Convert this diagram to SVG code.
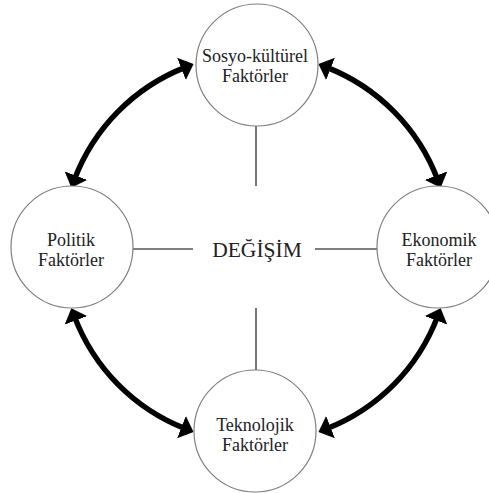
<svg xmlns="http://www.w3.org/2000/svg" width="489" height="493" viewBox="0 0 489 493">
<style>
  .node circle { fill: #fff; stroke: #808080; stroke-width: 1.2; }
  .node text { font-family: "Liberation Serif", "Times New Roman", serif; font-size: 18px; fill: #222; text-anchor: middle; }
  .center text { font-family: "Liberation Serif", "Times New Roman", serif; font-size: 21.5px; fill: #222; text-anchor: middle; }
  .link { stroke: #555; stroke-width: 1.6; fill: none; }
  .arc { stroke: #000; stroke-width: 5.5; fill: none; marker-start: url(#head); marker-end: url(#head); }
</style>
<defs>
  <marker id="head" viewBox="0 0 13 24" refX="4" refY="12" markerWidth="13" markerHeight="24" markerUnits="userSpaceOnUse" orient="auto-start-reverse">
    <path d="M0,0 L13,12 L0,24 Z" fill="#000"/>
  </marker>
</defs>
<rect width="489" height="493" fill="#fff"/>
<g id="connectors">
  <line class="link" x1="256" y1="126" x2="256" y2="186"/>
  <line class="link" x1="256" y1="308" x2="256" y2="370"/>
  <line class="link" x1="133" y1="249" x2="193" y2="249"/>
  <line class="link" x1="315" y1="249" x2="377" y2="249"/>
  <path class="arc" d="M74.5,179.4 A194,194 0 0 1 185.2,67.4"/>
  <path class="arc" d="M326.8,67.4 A194,194 0 0 1 437.5,179.4"/>
  <path class="arc" d="M437.5,316.6 A194,194 0 0 1 326.8,428.6"/>
  <path class="arc" d="M185.2,428.6 A194,194 0 0 1 74.5,316.6"/>
</g>
<g id="node-sosyo" class="node">
  <circle cx="257" cy="65" r="61"/>
  <text x="255" y="62">Sosyo-kültürel</text>
  <text x="255" y="82">Faktörler</text>
</g>
<g id="node-politik" class="node">
  <circle cx="72" cy="247" r="61"/>
  <text x="71" y="246">Politik</text>
  <text x="71" y="266">Faktörler</text>
</g>
<g id="node-ekonomik" class="node">
  <circle cx="438" cy="247" r="61"/>
  <text x="439" y="246">Ekonomik</text>
  <text x="439" y="266">Faktörler</text>
</g>
<g id="node-teknolojik" class="node">
  <circle cx="255" cy="431" r="61"/>
  <text x="255" y="431">Teknolojik</text>
  <text x="255" y="451">Faktörler</text>
</g>
<g id="center" class="center">
  <text x="257" y="257">DEĞİŞİM</text>
</g>
</svg>
